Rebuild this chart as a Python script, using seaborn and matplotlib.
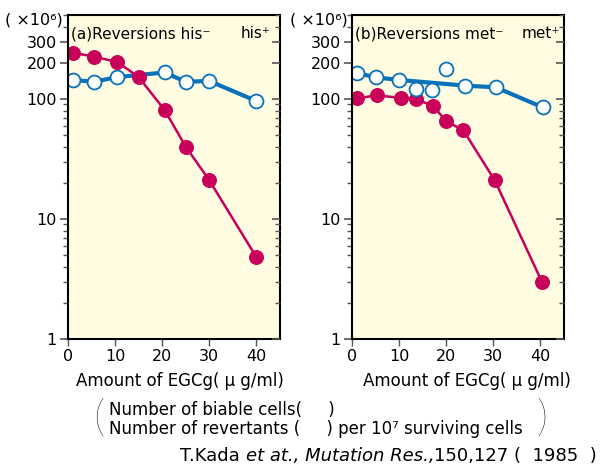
import numpy as np
import pandas as pd
import matplotlib
matplotlib.use("Agg")
import matplotlib.pyplot as plt
import seaborn as sns

# -----------------------------
# Dados
# -----------------------------
# (a) his- -> his+
a_x = [1, 5.5, 10.5, 15, 20.5, 25, 30, 40]
a_revert = [243, 225, 203, 152, 81, 40, 21, 4.8]        # cheios (vermelho)
a_viable_x = [1, 5.5, 10.5, 20.5, 25, 30, 40]           # abertos (azul)
a_viable_y = [144, 139, 152, 166, 139, 141, 96]

# (b) met- -> met+
b_line_x = [1, 5, 10, 24, 30.5, 40.5]
b_line_y = [165, 151, 144, 129, 125, 85]
b_extra_x = [13.5, 17, 20]
b_extra_y = [122, 118, 178]
b_revert_x = [1, 5.2, 10.5, 13.5, 17.3, 20, 23.6, 30.3, 40.3]
b_revert_y = [101, 107, 102, 100, 87, 65, 55, 21, 3.0]

y_ticks = [1, 10, 100, 200, 300]
x_ticks = [0, 10, 20, 30, 40]

RED = "#C8005A"
BLUE = "#0A72B8"
BG = "#FFFCE1"
FONT = ["DejaVu Sans"]

sns.set_style("ticks")
plt.rcParams["font.family"] = FONT
plt.rcParams["font.size"] = 11.5
plt.rcParams["text.color"] = "black"
plt.rcParams["xtick.labelcolor"] = "black"
plt.rcParams["ytick.labelcolor"] = "black"


def style_axis(ax):
    ax.set_facecolor(BG)
    ax.set_yscale("log")
    ax.set_xlim(0, 45)
    ax.set_ylim(1, 500)
    ax.set_xticks(x_ticks)
    ax.set_xticklabels([str(t) for t in x_ticks], fontsize=11.5)
    ax.set_yticks(y_ticks)
    ax.set_yticklabels([str(t) for t in y_ticks], fontsize=11.5)
    ax.set_xlabel("")
    ax.set_ylabel("")
    for s in ax.spines.values():
        s.set_linewidth(1.5)
        s.set_color("black")
    ax.tick_params(axis="y", which="major", direction="out", length=6, width=1.2,
                   color="#555555", labelcolor="black", pad=2)
    ax.tick_params(axis="y", which="minor", direction="out", length=3.5, width=1.0, color="#555555")
    ax.tick_params(axis="x", which="major", direction="out", length=5, width=1.0,
                   color="#555555", labelcolor="black", pad=2)
    # ticks para dentro no lado direito
    tw = ax.twinx()
    tw.set_yscale("log")
    tw.set_ylim(1, 500)
    tw.set_yticks(y_ticks)
    tw.tick_params(axis="y", which="major", direction="in", length=6, width=1.2, color="#555555", labelright=False)
    tw.tick_params(axis="y", which="minor", direction="in", length=3.5, width=1.0, color="#555555")
    for s in tw.spines.values():
        s.set_visible(False)


fig = plt.figure(figsize=(6.01, 4.72), dpi=100)
ax_a = fig.add_axes([0.1131, 0.2818, 0.3527, 0.6864])
ax_b = fig.add_axes([0.5857, 0.2818, 0.3527, 0.6864])

open_kw = dict(color=BLUE, linewidth=3, marker="o", markersize=10,
               markerfacecolor="white", markeredgecolor=BLUE, markeredgewidth=1.3)
fill_kw = dict(color=RED, linewidth=1.8, marker="o", markersize=10,
               markerfacecolor=RED, markeredgecolor=RED)

# (a)
sns.lineplot(x=a_viable_x, y=a_viable_y, ax=ax_a, **open_kw)
sns.lineplot(x=a_x, y=a_revert, ax=ax_a, **fill_kw)

# (b)
sns.lineplot(x=b_line_x, y=b_line_y, ax=ax_b, **open_kw)
sns.scatterplot(x=b_extra_x, y=b_extra_y, ax=ax_b, s=100, facecolor="white",
                edgecolor=BLUE, linewidth=1.3, zorder=3)
sns.lineplot(x=b_revert_x, y=b_revert_y, ax=ax_b, **fill_kw)

style_axis(ax_a)
style_axis(ax_b)

# títulos dentro dos painéis
ax_a.text(0.015, 0.965, "(a)Reversions his⁻", transform=ax_a.transAxes,
          ha="left", va="top", fontsize=11)
ax_a.text(0.955, 0.965, "his⁺", transform=ax_a.transAxes,
          ha="right", va="top", fontsize=11)
ax_b.text(0.015, 0.965, "(b)Reversions met⁻", transform=ax_b.transAxes,
          ha="left", va="top", fontsize=11)
ax_b.text(0.98, 0.965, "met⁺", transform=ax_b.transAxes,
          ha="right", va="top", fontsize=11)

fig.text(5 / 601, 1 - 20 / 472, "( ×10⁶)", ha="left", va="center", fontsize=11.5)
fig.text(290 / 601, 1 - 20 / 472, "( ×10⁶)", ha="left", va="center", fontsize=11.5)

fig.text(180 / 601, 1 - 381 / 472, "Amount of EGCg( μ g/ml)", ha="center", va="center", fontsize=12)
fig.text(467 / 601, 1 - 381 / 472, "Amount of EGCg( μ g/ml)", ha="center", va="center", fontsize=12)

# legenda textual
fig.text(109 / 601, 1 - 410 / 472, "Number of biable cells(     )", ha="left", va="center", fontsize=12)
fig.text(109 / 601, 1 - 429 / 472, "Number of revertants (     ) per 10⁷ surviving cells",
         ha="left", va="center", fontsize=12)
fig.text(99 / 601, 1 - 419 / 472, "(", ha="center", va="center", fontsize=32,
         family="Lato", fontweight="light", color="black")
fig.text(542 / 601, 1 - 419 / 472, ")", ha="center", va="center", fontsize=32,
         family="Lato", fontweight="light", color="black")

# citação: peças colocadas lado a lado
renderer = fig.canvas.get_renderer()
x_px = 180
for piece, st in [("T.Kada ", "normal"), ("et at., Mutation Res.,", "italic"),
                  ("150,127 (  1985  )", "normal")]:
    t = fig.text(x_px / 601, 1 - 456 / 472, piece, ha="left", va="center",
                 fontsize=13, style=st)
    x_px = t.get_window_extent(renderer).x1

fig.savefig("out.png", dpi=100)
